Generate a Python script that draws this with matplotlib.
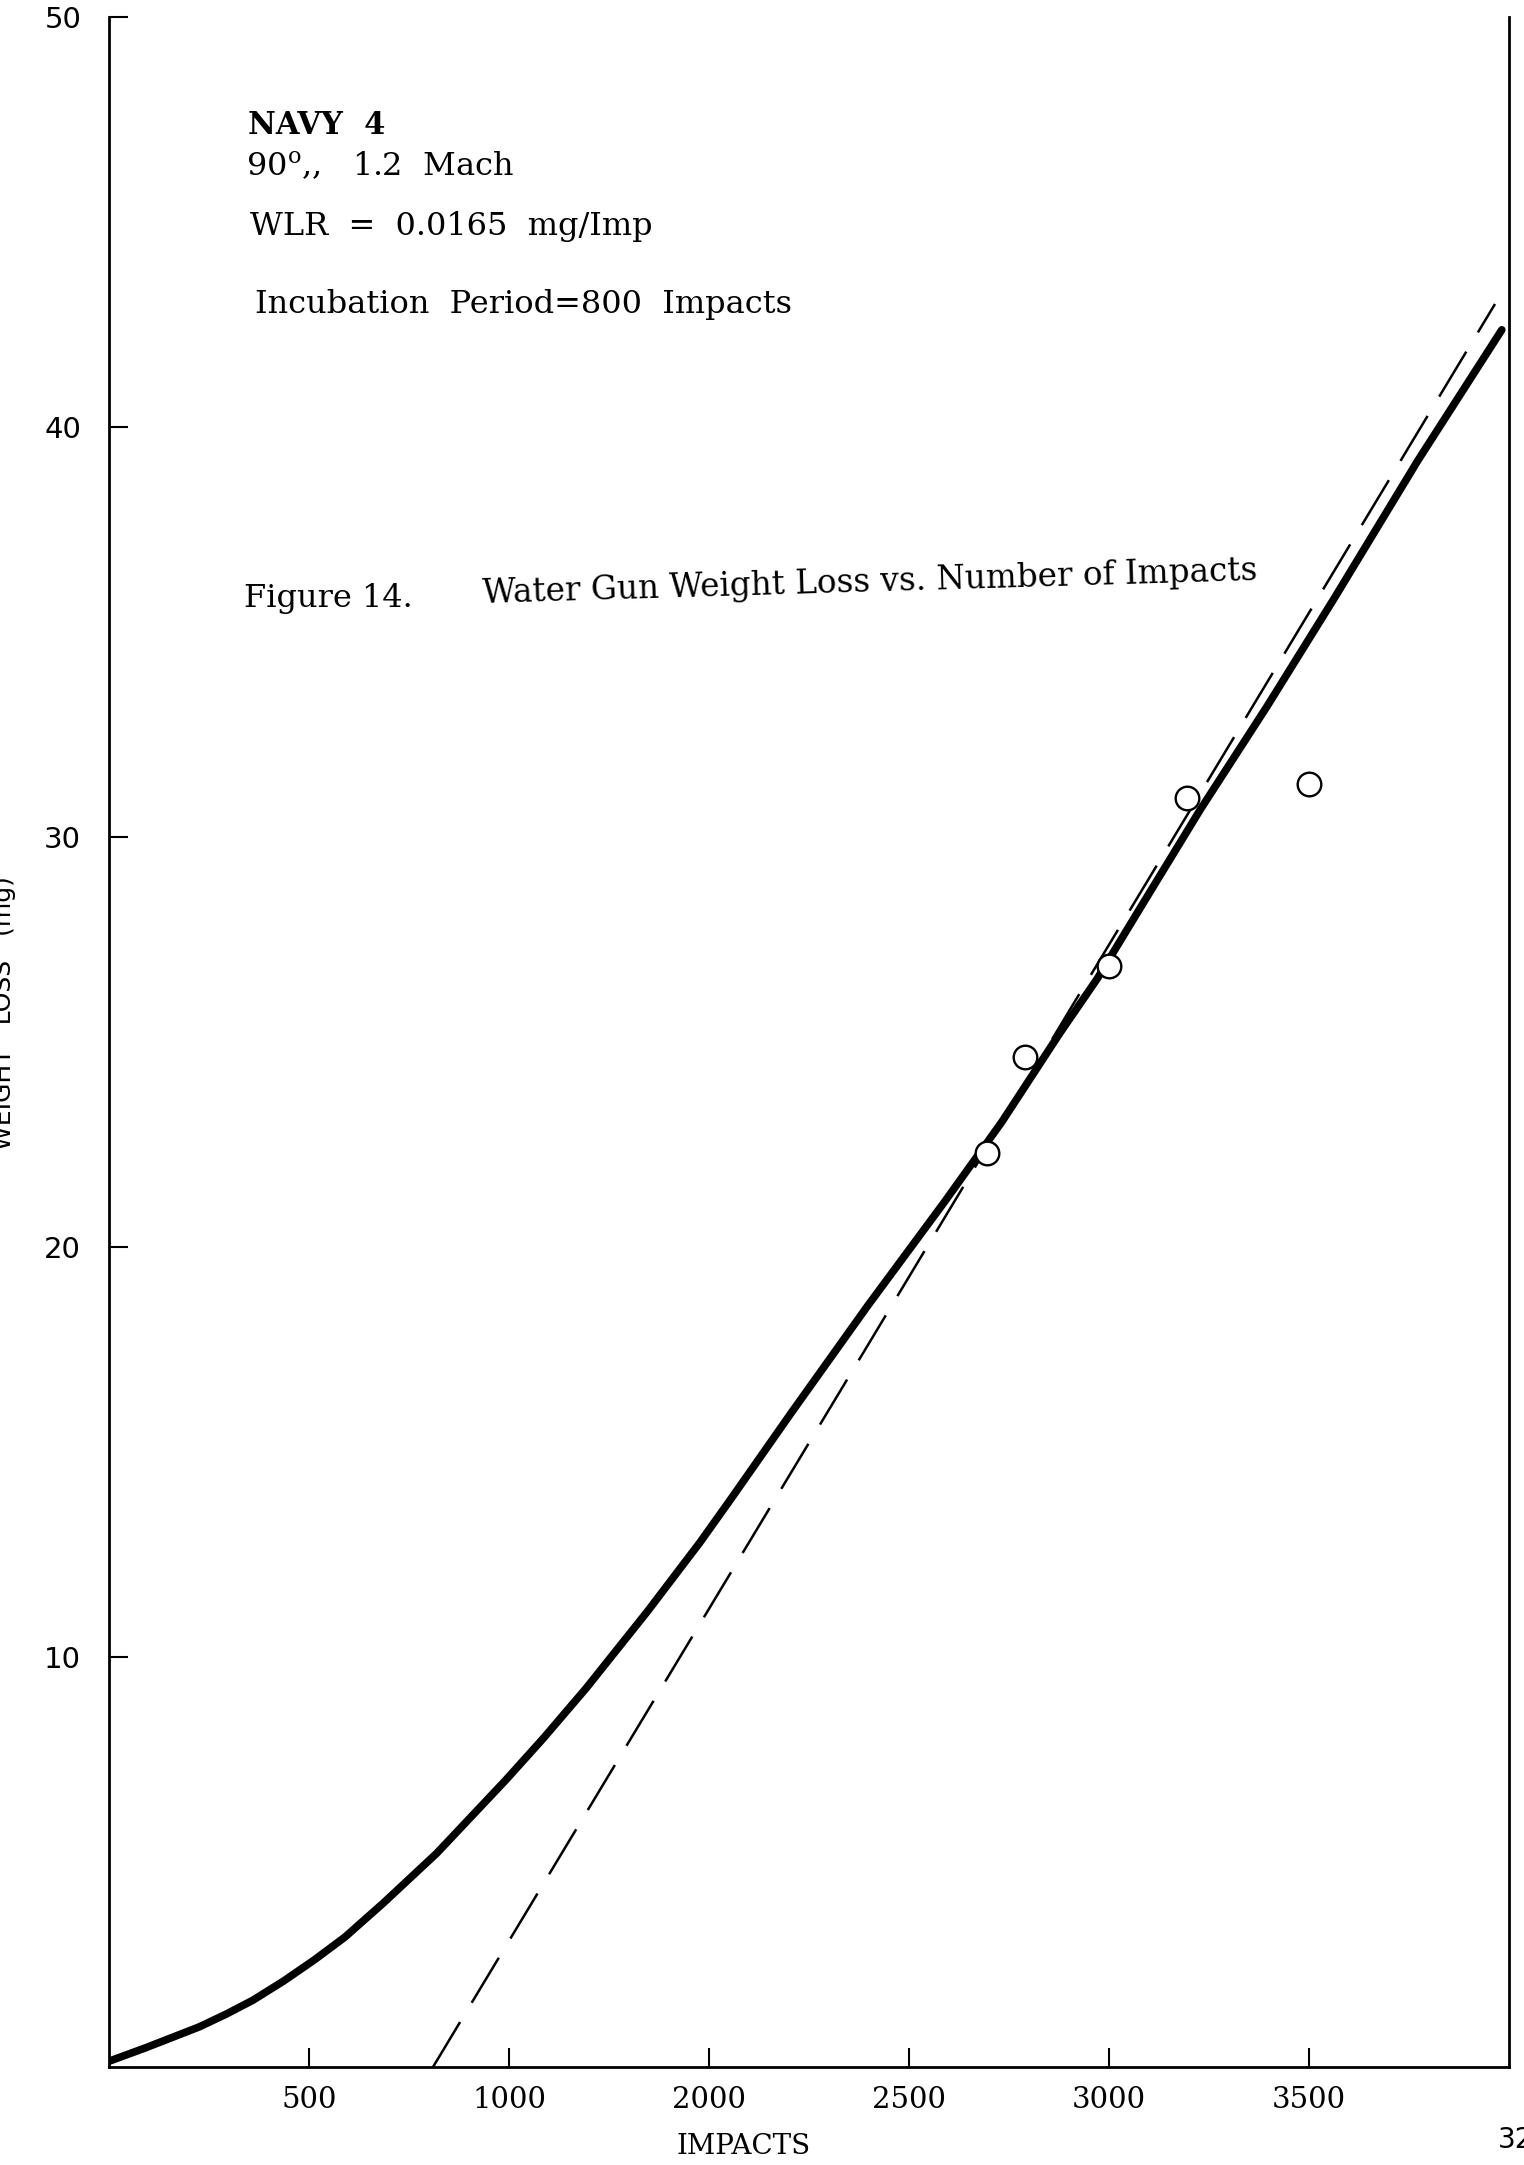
import matplotlib
matplotlib.use("Agg")
import matplotlib.pyplot as plt

# solid curve (impacts, weight loss mg)
curve_x = [0, 92, 226, 293, 360, 437, 513, 590, 686, 819, 992, 1087, 1193,
           1346, 1477, 1553, 1706, 1897, 2088, 2232, 2376, 2471, 2590, 2729,
           2896, 3063, 3272, 3482]
curve_y = [0.14, 0.47, 0.98, 1.29, 1.63, 2.10, 2.61, 3.17, 4.0, 5.21, 7.0,
           8.03, 9.24, 11.11, 12.79, 13.83, 15.96, 18.57, 21.09, 23.05, 25.2,
           26.55, 28.46, 30.68, 33.2, 35.82, 39.18, 42.37]

# measured points (circles)
pts_x = [2194, 2291, 2500, 2695, 3000]
pts_y = [22.3, 24.64, 26.86, 30.96, 31.3]

# dashed WLR line, starts at the incubation period
wlr_x = [810, 3465]
wlr_y = [0, 43.0]

xtick_pos = [500, 1000, 1500, 2000, 2500, 3000]
xtick_lab = ['500', '1000', '2000', '2500', '3000', '3500']
ytick_pos = [10, 20, 30, 40, 50]
ytick_lab = ['10', '20', '30', '40', '50']

W, H = 1524, 2165
fig = plt.figure(figsize=(W / 100, H / 100), dpi=100)
ax = fig.add_axes([109 / W, 98 / H, 1400 / W, 2050 / H])

ax.plot(curve_x, curve_y, color='black', lw=5.5, solid_capstyle='round',
        solid_joinstyle='round', zorder=3)
ax.plot(wlr_x, wlr_y, color='black', lw=1.8, dashes=(21, 9), zorder=2)
ax.plot(pts_x, pts_y, 'o', ms=17, mfc='white', mec='black', mew=1.7, zorder=4)

ax.set_xlim(0, 3500)
ax.set_ylim(0, 50)
ax.spines['top'].set_visible(False)
for s in ['left', 'right', 'bottom']:
    ax.spines[s].set_linewidth(2)

ax.set_xticks(xtick_pos)
ax.set_xticklabels(xtick_lab, family='DejaVu Serif', fontsize=21)
ax.set_yticks(ytick_pos)
ax.set_yticklabels(ytick_lab, family='DejaVu Sans', fontsize=21)
ax.tick_params(axis='x', direction='in', length=14, width=1.5, pad=14)
ax.tick_params(axis='y', direction='in', length=14, width=1.5, pad=20)

# notes inside the plot
serif = 'DejaVu Serif'
fig.text(248 / W, 1 - 125 / H, 'NAVY  4', family=serif, weight='bold',
         fontsize=22, va='center')
fig.text(246 / W, 1 - 167 / H, r'90$^{\mathregular{o}}$,,   1.2  Mach',
         family=serif, fontsize=23, va='center')
fig.text(250 / W, 1 - 227 / H, 'WLR  =  0.0165  mg/Imp', family=serif,
         fontsize=23, va='center')
fig.text(255 / W, 1 - 304 / H, 'Incubation  Period=800  Impacts',
         family=serif, fontsize=23, va='center')
fig.text(244 / W, 1 - 598 / H, 'Figure 14.', family=serif,
         fontsize=23, va='center')
fig.text(483 / W, 1 - 594 / H, 'Water Gun Weight Loss vs. Number of Impacts',
         family=serif, fontsize=23.5, va='center', rotation=1.7,
         rotation_mode='anchor')

fig.text(744 / W, 1 - 2147 / H, 'IMPACTS', family=serif, fontsize=20,
         ha='center', va='center')
fig.text(4 / W, 1 - 1013 / H, 'WEIGHT   LOSS   (mg)', family='DejaVu Sans',
         fontsize=18, rotation=90, ha='center', va='center')
fig.text(1498 / W, 1 - 2140 / H, '32', family='DejaVu Sans', fontsize=20,
         va='center')

fig.savefig('out.png', dpi=100, facecolor='white')
